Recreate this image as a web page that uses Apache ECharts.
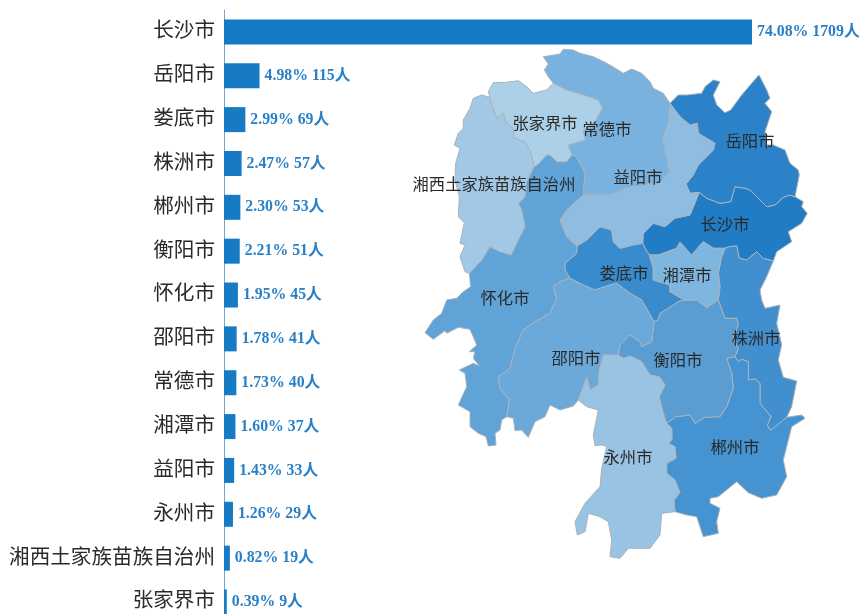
<!DOCTYPE html>
<html>
<head>
<meta charset="utf-8">
<style>
  html, body { margin: 0; padding: 0; background: #fff; overflow: hidden; }
  #main { width: 861px; height: 614px; }
</style>
</head>
<body>
<div id="main"></div>
<script src="https://cdn.jsdelivr.net/npm/echarts@6/dist/echarts.min.js"></script>
<script>
const cities = ['长沙市', '岳阳市', '娄底市', '株洲市', '郴州市', '衡阳市', '怀化市', '邵阳市', '常德市', '湘潭市', '益阳市', '永州市', '湘西土家族苗族自治州', '张家界市'];
const people = [1709, 115, 69, 57, 53, 51, 45, 41, 40, 37, 33, 29, 19, 9];
const percents = ['74.08', '4.98', '2.99', '2.47', '2.30', '2.21', '1.95', '1.78', '1.73', '1.60', '1.43', '1.26', '0.82', '0.39'];

// 地图配色，顺序同 cities
const mapColors = ['#207cc4', '#2b82c8', '#388bcd', '#418fce', '#4593d0', '#5a9dd2', '#60a3d7', '#6aa9da', '#79b2df', '#7fb6e0', '#8fbde2', '#99c3e3', '#a3c8e6', '#add0e9'];

// 湖南省底图：公共边界线，相邻两市共用
const arcs = {
  zjjNorth: [[490,97.3],[488.3,91.7],[493.3,82.7],[506.7,82.3],[518.3,80.7],[526.7,86.7],[533.3,93.3],[546.7,90],[553.3,83.3]],
  zjjChangde: [[553.3,83.3],[566.7,90],[583.3,95],[598.3,100],[602.3,108.3],[595,121.7],[583.3,130],[585,140],[568.3,145],[571.7,155]],
  zjjHuaihua: [[571.7,155],[566.7,161.7],[556.7,161.7],[550,155],[546.7,155],[538.3,164],[534,166.7]],
  zjjXiangxi: [[534,166.7],[530.7,151.7],[525,141.7],[514,138.3],[513.3,128.3],[506.7,123.3],[503.3,113.3],[497.3,118.3],[491.7,105],[490,97.3]],
  xxOuter: [[490,97.3],[481.7,95],[473.3,98.3],[470,108.3],[463.3,120],[463.3,128.3],[458.3,133.3],[454.3,145],[460,148.3],[455.7,163.3],[455,180],[459.3,196.7],[458.3,216.7],[464.3,222.7],[460,243.3],[465,245],[460,256.7],[465,271.7],[469.3,273.3]],
  xxHuaihua: [[469.3,273.3],[481.7,260],[490,246.7],[500,251.7],[511,255],[520,236.7],[525,226.7],[521.7,210],[518.3,203.3],[525,196.7],[526.7,181.7],[534,166.7]],
  hhChangde: [[571.7,155],[576.7,156.7],[585,173.3],[583.3,195]],
  hhYiyang: [[583.3,195],[566.7,210],[560,220],[566.7,236.7],[577,246]],
  hhLoudi: [[577,246],[576.7,253.3],[565,263.3],[565,270],[570,278.3]],
  hhShaoyang: [[570,278.3],[560,281.7],[553.3,286.7],[556.7,298.3],[550,313.3],[535,321.7],[523.3,330],[515,348.3],[510,368.3],[498.3,376.7],[500,388.3],[509.3,400],[506.7,416.7]],
  hhOuter: [[506.7,416.7],[501.7,420],[500,430],[495,433.3],[496,445],[488.3,446],[486,436.7],[478.3,433.3],[470,426.7],[470,411.7],[458.3,405],[466.7,386.7],[465,373.3],[459.3,370],[473.3,363.3],[479.3,366],[473.3,358.3],[475,351.7],[469.3,351.7],[476.7,345],[470,329.3],[458.3,327.3],[446.7,333.3],[445,330.7],[433.3,339.3],[425,332.7],[433.3,320],[441.7,313.3],[446.7,300],[456.7,298.3],[463.3,291.7],[470.7,286.7],[470,280],[469.3,273.3]],
  changdeOuter: [[670,103.3],[663.3,93.3],[653.3,88.3],[650,81.7],[641.7,73.3],[631.7,69],[623.3,73.3],[610,65],[601.7,60.7],[593.3,56.7],[580,53.3],[573.3,50],[563.3,49.3],[560,54],[543.3,56.7],[548.3,64],[544.3,70],[548.3,76.7],[553.3,83.3]],
  changdeYiyang: [[583.3,195],[610,195],[626.7,188],[643.3,185],[660,183.3],[669.3,171.7],[666.7,156.7],[662.7,140],[668.3,123.3],[670,103.3]],
  yiyangYueyang: [[670,103.3],[680,116.7],[690,125],[697.3,123.3],[698.3,133.3],[706.7,138.3],[715,143.3],[713.3,150],[698.3,165],[693.3,175],[686,184],[690,193.3],[699.3,192.3]],
  yiyangChangsha: [[699.3,192.3],[690,215],[675,218.3],[665,226.7],[653.3,223.3],[643.3,233.3],[642.7,243.3]],
  yiyangLoudi: [[642.7,243.3],[633.3,245],[620,248.3],[613.3,241.7],[611.7,230],[600,226.7],[586.7,240],[577,246]],
  yueyangOuter: [[795,196.7],[799.3,175],[798.3,170],[790,163.3],[785,150],[773.3,145],[766.7,145],[765,131.7],[771.7,111.7],[765,103.3],[770,98.3],[766.7,90],[759,75],[751.7,83.3],[741.7,95],[730.7,110],[725,112.7],[716.7,105],[713.3,95],[720,81.7],[713.3,80],[705,86.7],[701.7,93.3],[686.7,95],[678.3,95],[670,103.3]],
  yueyangChangsha: [[795,196.7],[790,195],[783.3,197.3],[775,205],[766.7,206.7],[756.7,196.7],[750,190],[745,188.3],[735,186.7],[730.7,201.7],[720,203.3],[706.7,198.3],[699.3,192.3]],
  changshaLoudi: [[642.7,243.3],[645,248.3],[649.3,255]],
  changshaXiangtan: [[649.3,255],[658.3,255],[676.7,248.3],[680,242.3],[691.7,255],[703.3,241.7],[713.3,248.3],[725,248.3]],
  changshaZhuzhou: [[725,248.3],[729.3,246.7],[736.7,246],[739.3,258.3],[746.7,260],[756.7,251.7],[763.3,258.3],[773.3,261]],
  changshaOuter: [[773.3,261],[776.7,251.7],[791.7,241.7],[788.3,231.7],[801.7,223.3],[807.3,213.3],[801.7,206.7],[803.3,201.7],[795,196.7]],
  shaoyangLoudi: [[570,278.3],[583.3,285],[595,290],[610,285],[616.7,283.3],[630,293.3],[641.7,300],[654,321.7]],
  loudiHengyang: [[654,321.7],[658.3,320],[660,313.3],[668.3,308.3],[678.3,301.7],[684,300]],
  loudiXiangtan: [[684,300],[670,291.7],[670,285],[653.3,280],[653.3,268],[649.3,255]],
  xiangtanZhuzhou: [[725,248.3],[721.7,256.7],[718.3,273.3],[720,286.7],[718.3,300]],
  xiangtanHengyang: [[718.3,300],[706.7,307.5],[696.7,300],[684,300]],
  zhuzhouOuter: [[773.3,261],[766.7,276.7],[760,290],[761.7,300],[765,308.3],[780,305],[776.7,323.3],[781.7,345],[778.3,360],[783.3,377.3],[796.7,381],[791.7,406.7],[786.7,417.3]],
  zhuzhouChenzhou: [[786.7,417.3],[773.3,428.3],[770,430],[767.3,425],[771,416.7],[760,403.3],[760,383.3],[755,379],[748.3,380],[748.3,361.7],[741.7,359.3],[738.3,361.7],[735,356.7]],
  zhuzhouHengyang: [[718.3,300],[725,318.3],[736.7,318.3],[738.3,325],[733,338],[738.3,348.3],[735,356.7]],
  hengyangChenzhou: [[735,356.7],[726.7,358.3],[731.7,373.3],[733.3,388.3],[726.7,406.7],[720,416.7],[705,417.3],[695,423.3],[690,415],[676,416.7],[666.7,423.3]],
  yongzhouHengyang: [[666.7,423.3],[663.3,413.3],[659.3,396.7],[665,385],[659.3,376.7],[650,375],[641.7,361.7],[630,356],[623.3,358.3],[618.3,355]],
  shaoyangHengyang: [[618.3,355],[620,345],[630,335],[640,341.7],[641.7,346.7],[651.7,341.7],[654,321.7]],
  shaoyangOuter: [[506.7,416.7],[513.3,418.3],[515,430.7],[521.7,430],[528.3,437.3],[535,421.7],[545,416.7],[550,405],[560,410],[573.3,406],[578.3,400]],
  yongzhouShaoyang: [[578.3,400],[586.7,377.3],[590,390],[598.3,385],[599.3,370],[603.3,355],[618.3,355]],
  yongzhouChenzhou: [[666.7,423.3],[671.7,428.3],[672,440],[668.3,443.3],[675,446.7],[676,458.3],[666.7,463.3],[666.7,473.3],[675,480],[680,492.7],[674,500],[675,511.7]],
  chenzhouOuter: [[675,511.7],[686.7,515],[696.7,516.7],[703.3,536.7],[718.3,533.3],[716.7,521.7],[720,508.3],[710,503.3],[710,498.3],[718.3,496.7],[736.7,481.7],[748.3,492.7],[761.7,498.3],[776.7,495],[786.7,476.7],[783.3,460],[790,433.3],[791.7,426.7],[805,418.3],[801.7,415],[786.7,417.3]],
  yongzhouOuter: [[675,511.7],[661.7,513.3],[660,535],[650,548.3],[628.3,548.3],[620,558.3],[610,556.7],[611.7,540],[608.3,521.7],[600,516.7],[588.3,513.3],[585,531.7],[577.3,535],[575,521.7],[585,503.3],[600,486.7],[601.7,468.3],[606.7,446.7],[601.7,445],[595,445.7],[593.3,435],[598.3,410],[586.7,406.7],[578.3,400]]
};

// 每个市由哪些边界线围成，前面带 - 的是反向
const regions = {
  '长沙市': { cp: [725,224], ring: ['yueyangChangsha','yiyangChangsha','changshaLoudi','changshaXiangtan','changshaZhuzhou','changshaOuter'] },
  '岳阳市': { cp: [750,141], ring: ['yueyangOuter','yiyangYueyang','-yueyangChangsha'] },
  '娄底市': { cp: [624,273], ring: ['yiyangLoudi','hhLoudi','shaoyangLoudi','loudiHengyang','loudiXiangtan','-changshaLoudi'] },
  '株洲市': { cp: [756,338], ring: ['changshaZhuzhou','zhuzhouOuter','zhuzhouChenzhou','-zhuzhouHengyang','-xiangtanZhuzhou'] },
  '郴州市': { cp: [735,447], ring: ['hengyangChenzhou','yongzhouChenzhou','chenzhouOuter','zhuzhouChenzhou'] },
  '衡阳市': { cp: [678,360], ring: ['xiangtanHengyang','-loudiHengyang','-shaoyangHengyang','-yongzhouHengyang','-hengyangChenzhou','-zhuzhouHengyang'] },
  '怀化市': { cp: [505,298], ring: ['-zjjHuaihua','hhChangde','hhYiyang','hhLoudi','hhShaoyang','hhOuter','xxHuaihua'] },
  '邵阳市': { cp: [576,358], ring: ['hhShaoyang','shaoyangOuter','yongzhouShaoyang','shaoyangHengyang','-shaoyangLoudi'] },
  '常德市': { cp: [607,129], ring: ['changdeOuter','zjjChangde','hhChangde','changdeYiyang'] },
  '湘潭市': { cp: [687,275], ring: ['changshaXiangtan','xiangtanZhuzhou','xiangtanHengyang','loudiXiangtan'] },
  '益阳市': { cp: [638,177], ring: ['yiyangYueyang','yiyangChangsha','yiyangLoudi','-hhYiyang','changdeYiyang'] },
  '永州市': { cp: [628,457], ring: ['-yongzhouShaoyang','-yongzhouOuter','-yongzhouChenzhou','yongzhouHengyang'] },
  '湘西土家族苗族自治州': { cp: [494,184], ring: ['xxOuter','xxHuaihua','zjjXiangxi'] },
  '张家界市': { cp: [545,123], ring: ['zjjNorth','zjjChangde','zjjHuaihua','zjjXiangxi'] }
};

function buildMap() {
  let minX = Infinity, maxX = -Infinity, minY = Infinity, maxY = -Infinity;
  const features = cities.map(function (name) {
    let coords = [];
    regions[name].ring.forEach(function (key) {
      const rev = key[0] === '-';
      let line = arcs[rev ? key.slice(1) : key].slice();
      if (rev) line.reverse();
      coords = coords.concat(line);
    });
    coords.forEach(function (p) {
      minX = Math.min(minX, p[0]); maxX = Math.max(maxX, p[0]);
      minY = Math.min(minY, p[1]); maxY = Math.max(maxY, p[1]);
    });
    const cp = regions[name].cp;
    return {
      type: 'Feature',
      properties: { name: name, cp: [cp[0], -cp[1]] },
      // geoJSON 的纬度向上，这里翻一下
      geometry: { type: 'Polygon', coordinates: [coords.map(function (p) { return [p[0], -p[1]]; })] }
    };
  });
  return { geo: { type: 'FeatureCollection', features: features }, left: minX, top: minY, width: maxX - minX, height: maxY - minY };
}

const hunan = buildMap();
echarts.registerMap('hunan', hunan.geo);

const myEcharts = echarts.init(document.getElementById('main'));
const latin = '"Liberation Serif", "Noto Sans CJK SC"';

myEcharts.setOption({
  animation: false,
  backgroundColor: '#fff',
  // 最后一格超出画布，不让 grid 被收回来
  grid: { left: 224, top: 10, width: 528, height: 613.9, containLabel: false, outerBoundsMode: 'none' },
  xAxis: { type: 'value', min: 0, max: 1709, show: false },
  yAxis: {
    type: 'category',
    inverse: true,
    data: cities,
    axisLine: { lineStyle: { color: '#6fa5d8', width: 1 } },
    axisTick: { length: 4, lineStyle: { color: '#6fa5d8' } },
    axisLabel: { color: '#2a2a2a', fontSize: 20.6, fontFamily: latin, margin: 9, interval: 0 }
  },
  series: [
    {
      type: 'bar',
      data: people,
      barWidth: 25,
      itemStyle: { color: '#167bc4' },
      label: {
        show: true,
        position: 'right',
        distance: 5,
        color: '#2a80c6',
        fontSize: 15.8,
        fontWeight: 'bold',
        fontFamily: latin,
        formatter: function (p) {
          return percents[p.dataIndex] + '% ' + p.value + '人';
        }
      },
      silent: true
    },
    {
      type: 'map',
      map: 'hunan',
      aspectScale: 1,
      roam: false,
      left: hunan.left,
      top: hunan.top,
      width: hunan.width,
      height: hunan.height,
      silent: true,
      itemStyle: { borderColor: '#aab2ba', borderWidth: 1 },
      label: { show: true, color: '#2a2a2a', fontSize: 16.3, fontFamily: latin, offset: [0, 2] },
      data: cities.map(function (name, i) {
        return { name: name, value: people[i], itemStyle: { areaColor: mapColors[i] } };
      })
    }
  ]
});
</script>
</body>
</html>
